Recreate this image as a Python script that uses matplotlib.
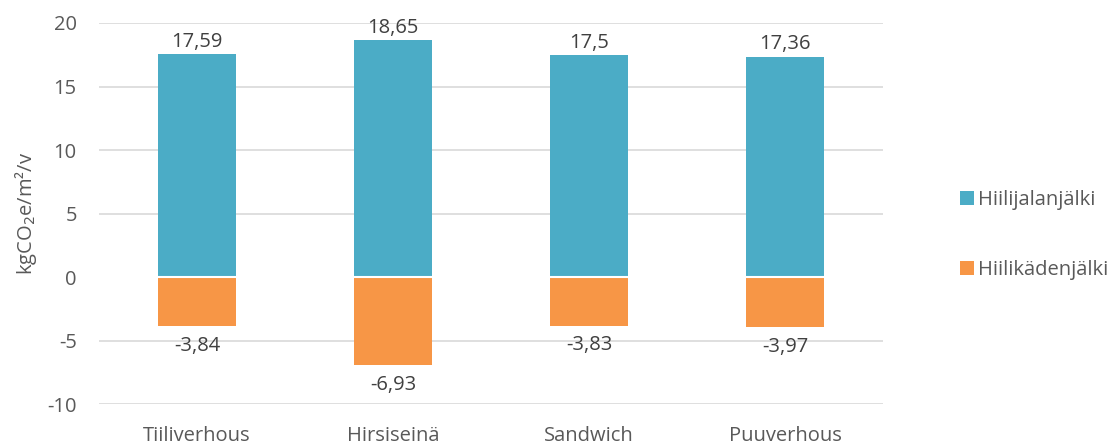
import matplotlib
matplotlib.use("Agg")
import matplotlib.pyplot as plt
import numpy as np

categories = ["Tiiliverhous", "Hirsiseinä", "Sandwich", "Puuverhous"]
footprint = [17.59, 18.65, 17.5, 17.36]
handprint = [-3.84, -6.93, -3.83, -3.97]
series_names = ["Hiilijalanjälki", "Hiilikädenjälki"]
yticks = [-10, -5, 0, 5, 10, 15, 20]

plt.rcParams["font.family"] = ["Open Sans", "DejaVu Sans"]
text_color = "#595959"
blue = "#4BACC6"
orange = "#F79646"

fig = plt.figure(figsize=(11.16, 4.48), dpi=100)
ax = fig.add_axes([0.0887, 0.098, 0.7025, 0.8507])

x = np.arange(len(categories))
w = 0.4
ax.bar(x, footprint, w, color=blue, label=series_names[0], zorder=3)
ax.bar(x, handprint, w, color=orange, label=series_names[1], zorder=3)

fs = 14.5
fmt = lambda v: f"{v:g}".replace(".", ",")
for xi, v in zip(x, footprint):
    ax.annotate(fmt(v), (xi, v), xytext=(0, 1.5), textcoords="offset points",
                ha="center", va="bottom", fontsize=fs, color="#404040")
for xi, v in zip(x, handprint):
    ax.annotate(fmt(v), (xi, v), xytext=(0, -7), textcoords="offset points",
                ha="center", va="top", fontsize=fs, color="#404040")

ax.axhline(0, color="white", lw=1.5, zorder=4)

ax.set_xlim(-0.5, len(categories) - 0.5)
ax.set_ylim(-10, 20)
ax.set_yticks(yticks)
ax.set_yticklabels([str(t) for t in yticks])
ax.set_xticks(x)
ax.set_xticklabels(categories)
ax.tick_params(axis="both", length=0, labelsize=fs, colors=text_color)
ax.tick_params(axis="y", pad=16)
ax.tick_params(axis="x", pad=16)
ax.yaxis.grid(True, color="#D9D9D9", lw=1.2, zorder=0)
for s in ax.spines.values():
    s.set_visible(False)

ax.set_ylabel("kgCO$_2$e/m²/v", fontsize=14.5, color=text_color, labelpad=6)

ax.legend(loc="center left", bbox_to_anchor=(1.085, 0.444), frameon=False,
          borderpad=0, fontsize=fs, labelcolor=text_color, handlelength=0.7,
          handleheight=0.7, handletextpad=0.2, labelspacing=2.5)

fig.savefig("out.png", dpi=100)
